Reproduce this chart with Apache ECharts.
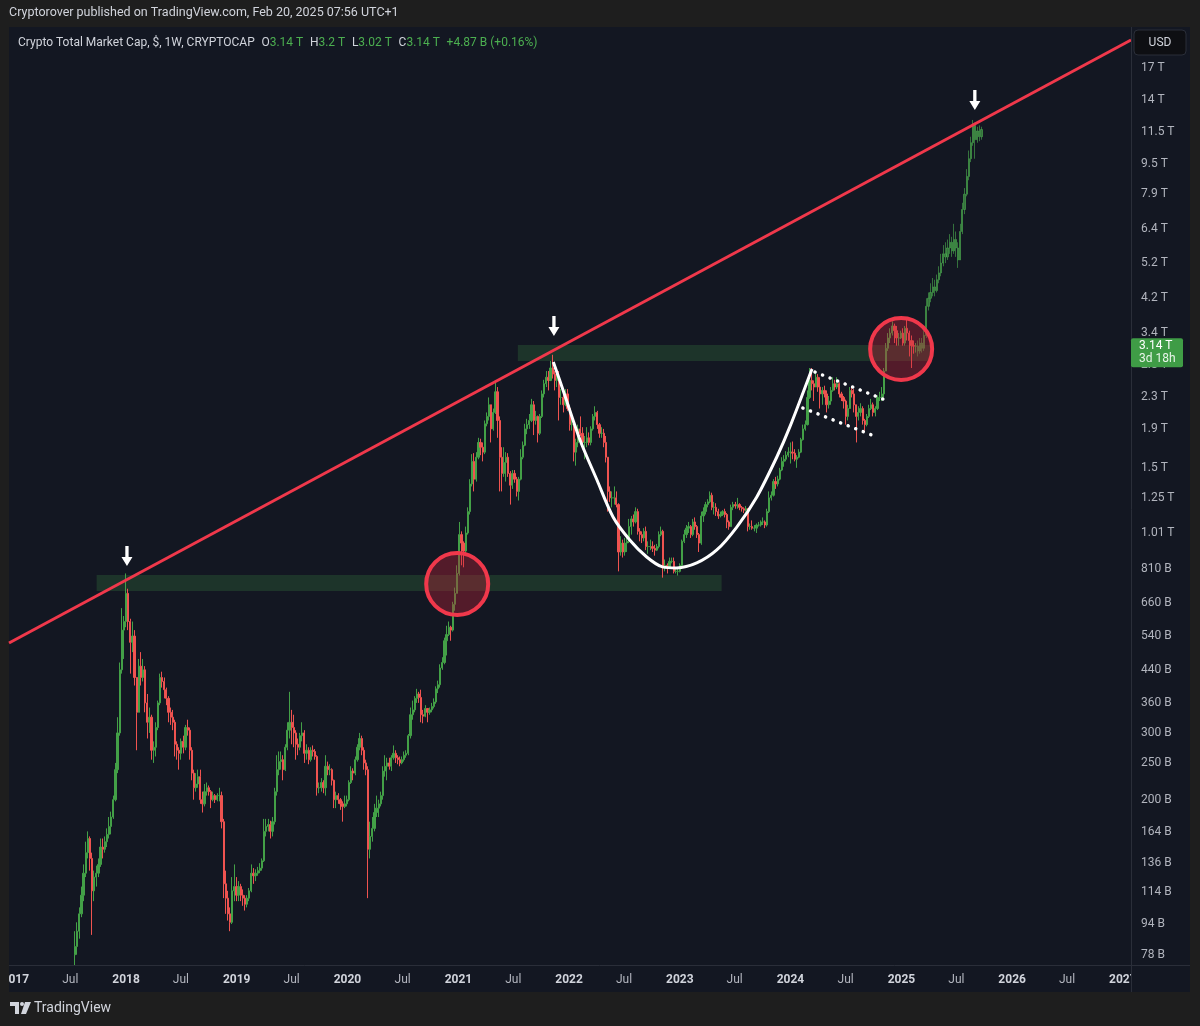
<!DOCTYPE html>
<html><head><meta charset="utf-8">
<script src="https://cdn.jsdelivr.net/npm/echarts@6/dist/echarts.min.js"></script>
<style>html,body{margin:0;padding:0;background:#1e1e1e;}#c{width:1200px;height:1026px;}</style>
</head><body><div id="c"></div>
<script>
// ---- DATA (values in billions USD). Each week row: [close, low, high]; open = previous close ----
const firstWeek = '2017-07-17';
const firstOpen = 78;
const y2017 = [[82,73,90],[90,78,95],[100,86,104],[112,98,118],[128,108,135],[145,125,155],[158,140,165],[140,130,160],[115,88,145],[125,108,130],[128,118,134],[135,125,140],[150,133,158],[148,140,158],[155,145,160],[162,150,168],[170,158,180],[180,162,186],[200,178,205],[240,198,250],[300,235,330],[440,295,460],[560,430,640],[590,470,610]];
const y2018 = [[700,570,790],[590,560,720],[520,430,600],[540,490,590],[420,400,560],
[340,270,420],[450,340,470],[420,400,490],[440,410,470],
[360,340,450],[320,290,380],[330,300,350],[270,255,335],
[275,250,285],[310,260,320],[360,305,365],[420,355,430],[410,395,435],
[390,370,420],[370,355,395],[340,320,375],[330,315,350],
[320,305,345],[280,260,325],[270,255,285],[265,240,275],
[285,255,290],[275,265,295],[310,270,315],[305,295,325],[270,255,310],
[235,225,275],[215,200,240],[220,210,235],[230,215,240],
[200,195,240],[195,185,210],[210,192,220],[215,205,222],
[210,205,218],[200,190,212],[205,198,210],[200,196,207],[205,198,208],
[205,198,215],[175,168,210],[120,110,178],[110,100,130],
[100,96,115],[95,90,104],[115,94,125],[118,108,135],[112,108,125]];
const y2019 = [[118,108,122],[112,108,120],[110,105,116],[106,102,112],
[110,104,112],[115,108,117],[128,114,135],[126,120,132],
[128,122,131],[130,126,133],[132,128,136],[138,130,140],
[165,137,178],[170,160,178],[172,165,178],[165,158,176],[175,160,180],
[210,172,215],[240,205,262],[252,232,268],[255,240,268],
[240,225,262],[275,238,280],[305,270,320],[320,290,385],
[310,280,345],[300,275,335],[280,255,305],[275,262,290],[295,270,300],
[300,285,320],[265,250,305],[270,255,280],[255,248,275],
[270,252,275],[268,260,278],[260,255,272],[215,205,262],[215,208,222],
[222,210,228],[215,208,225],[245,205,262],[240,232,252],
[240,232,248],[225,218,242],[200,190,226],[205,190,210],
[200,195,208],[195,188,202],[192,175,198],[195,190,205],[200,192,205]];
const y2020 = [[222,198,225],[238,220,245],[235,225,242],[255,232,260],
[275,252,280],[290,270,300],[270,262,295],[250,240,275],
[240,232,255],[148,110,245],[160,140,175],[168,155,180],[185,165,195],
[190,180,205],[195,180,200],[205,192,210],[238,200,245],
[245,230,262],[250,225,258],[245,240,258],[258,238,262],
[265,255,278],[258,250,270],[255,248,262],[250,245,260],[255,248,260],
[262,252,268],[265,258,270],[295,262,298],[335,290,350],
[345,325,365],[370,340,375],[380,360,392],[372,360,385],[335,320,390],
[332,318,345],[348,330,355],[340,320,348],[345,335,350],
[352,340,360],[362,348,370],[392,358,398],[402,382,412],
[445,395,455],[460,440,475],[525,455,535],[545,480,575],[570,540,590],
[560,525,575],[655,555,665],[700,630,725],[790,700,830]];
const y2021 = [[1000,780,1080],[950,830,1020],[905,820,960],[1010,880,1050],
[1150,1000,1180],[1360,1130,1400],[1560,1340,1630],[1400,1300,1640],
[1600,1380,1650],[1750,1580,1800],[1700,1620,1790],[1650,1560,1750],[1960,1630,2000],
[2050,1930,2100],[2200,2000,2300],[1900,1750,2200],[2100,1880,2150],
[2380,2080,2550],[2000,1800,2450],[1600,1300,2050],[1450,1300,1700],[1550,1420,1700],
[1600,1380,1650],[1450,1420,1640],[1350,1200,1470],[1450,1320,1480],
[1400,1370,1480],[1300,1260,1420],[1400,1230,1420],[1600,1390,1680],
[1720,1580,1760],[1900,1710,1960],[1950,1840,2020],[2000,1900,2080],[2200,1980,2280],
[2000,1830,2250],[2050,1950,2120],[1850,1750,2060],[2050,1830,2080],
[2350,2030,2400],[2500,2300,2560],[2600,2450,2700],[2550,2400,2700],
[2750,2540,2870],[2650,2580,2980],[2550,2400,2700],[2600,2450,2680],[2300,2000,2700],
[2300,2200,2420],[2200,2100,2350],[2350,2180,2420],[2150,2120,2420]];
const y2022 = [[1950,1880,2200],[1950,1880,2050],[1650,1560,1980],[1750,1520,1790],[1900,1700,1950],
[1850,1820,2050],[1750,1700,1920],[1750,1580,1820],[1800,1700,1920],
[1750,1720,1860],[1900,1720,1930],[2050,1880,2080],[2100,2000,2180],
[1950,1900,2120],[1850,1800,1970],[1850,1800,1920],[1750,1700,1900],
[1600,1550,1820],[1300,1150,1600],[1250,1220,1340],[1250,1180,1300],[1250,1200,1340],
[1200,1180,1300],[900,800,1210],[950,880,990],[900,870,970],
[950,880,980],[960,900,990],[1050,950,1100],[1100,1000,1120],
[1080,1050,1130],[1150,1070,1180],[1020,1000,1170],[1000,960,1040],[980,950,1020],
[1020,960,1040],[930,910,1050],[930,890,960],[930,910,970],
[920,900,960],[910,880,940],[930,905,945],[1000,920,1020],[1020,990,1050],
[820,770,1030],[830,800,860],[820,790,840],[850,815,870],
[850,840,870],[800,790,870],[800,790,815],[800,780,812]];
const y2023 = [[830,795,840],[960,825,970],[1000,950,1030],[1040,980,1060],[1050,1010,1080],
[1000,980,1060],[1080,990,1100],[1050,1030,1110],[1000,980,1060],
[950,900,1010],[1120,940,1150],[1150,1080,1180],[1200,1130,1220],
[1220,1180,1240],[1270,1210,1300],[1180,1160,1290],[1180,1130,1220],
[1150,1120,1210],[1120,1100,1170],[1130,1110,1150],[1150,1120,1160],[1130,1110,1170],
[1080,1040,1140],[1050,1030,1090],[1180,1050,1200],[1200,1160,1220],
[1190,1170,1220],[1200,1170,1250],[1180,1160,1210],[1170,1150,1190],[1160,1140,1180],
[1170,1150,1190],[1050,1020,1175],[1050,1030,1070],[1040,1030,1090],
[1040,1020,1060],[1060,1010,1070],[1060,1050,1080],[1080,1050,1090],
[1080,1060,1110],[1060,1040,1090],[1150,1050,1170],[1250,1140,1300],[1270,1230,1300],
[1380,1260,1400],[1360,1320,1420],[1400,1340,1430],[1480,1390,1500],
[1560,1470,1600],[1580,1510,1620],[1620,1560,1660],[1650,1600,1700]];
const y2024 = [[1650,1540,1750],[1640,1580,1760],[1580,1560,1680],[1600,1500,1620],[1650,1590,1680],
[1780,1640,1800],[1900,1770,1950],[1950,1880,2000],[2300,1940,2400],
[2550,2280,2750],[2500,2400,2750],[2450,2250,2550],[2600,2450,2700],
[2450,2380,2650],[2350,2150,2600],[2400,2200,2450],[2350,2300,2470],[2200,2100,2400],
[2250,2150,2320],[2400,2200,2450],[2500,2380,2600],[2450,2400,2560],
[2500,2420,2600],[2350,2300,2520],[2300,2250,2380],[2250,2150,2320],
[2050,1950,2270],[2150,2000,2200],[2400,2150,2450],[2350,2300,2450],[2200,2100,2420],
[2050,1750,2200],[2100,2000,2180],[2150,2050,2220],[2000,1950,2180],
[1950,1880,2020],[2050,1930,2080],[2150,2030,2200],[2200,2130,2280],[2100,2050,2230],
[2150,2050,2180],[2300,2130,2330],[2300,2250,2380],[2350,2250,2450],
[2700,2300,2750],[3100,2700,3200],[3300,3050,3400],[3400,3200,3500],
[3550,3350,3650],[3450,3200,3600],[3300,3150,3550],[3300,3150,3400],[3400,3280,3450]];
const y2025 = [[3200,3150,3500],[3500,3150,3550],[3400,3250,3700],[3250,2950,3450],[3150,2750,3350],[3140,3000,3250],[3140,3020,3200]];
// projected bars pattern (drawn after the last real weekly bar)
const proj2025 = [[3050,2950,3250],[3200,3000,3300],[3100,3020,3300],[3350,3050,3450],[4000,3300,4200],[4200,3900,4350],[4350,4100,4600],[4500,4250,4750],[4400,4250,4700],[4700,4350,4850],[4900,4600,5100],[5200,4800,5500],[5500,5100,5800],[5400,5200,5900],[5700,5300,6000],[5900,5500,6200],[5600,5400,6100],[6000,5500,6600],[5700,5400,6300],[5300,5050,5900],[6300,5300,6600],[7200,6200,7500],[7900,7000,8200],[8800,7800,9200],[9800,8600,10300],[10800,9600,11200],[12000,10600,12400],[11000,9800,12200],[11600,10800,11900],[11200,10900,12000],[11700,11000,11900]];

// axis ticks
const yTicks = [78,94,114,136,164,200,250,300,360,440,540,660,810,1010,1250,1500,1900,2300,2800,3400,4200,5200,6400,7900,9500,11500,14000,17000];
const xTicks = ['2017-01-01','2017-07-01','2018-01-01','2018-07-01','2019-01-01','2019-07-01','2020-01-01','2020-07-01','2021-01-01','2021-07-01','2022-01-01','2022-07-01','2023-01-01','2023-07-01','2024-01-01','2024-07-01','2025-01-01','2025-07-01','2026-01-01','2026-07-01','2027-01-01'];
const xRange = ['2016-12-11','2027-01-28'];
const yRange = [73.3, 21805];

// drawings (date, value in B)
const trendLine = [['2016-12-11',518],['2027-01-28',20150]];
const zones = [[['2017-09-26',783],['2023-05-19',710]],[['2021-07-16',3162],['2025-04-06',2870]]];
const circles = [['2020-12-28',741],['2024-12-31',3087]];
const arrows = [['2018-01-04',878],['2021-11-12',3550],['2025-08-31',14000]];
const cup = [['2021-11-10',2853],['2021-12-12',2406],['2022-02-06',1777],['2022-04-03',1393],['2022-05-26',1113],['2022-07-20',968],['2022-09-14',873],['2022-11-05',822],['2022-12-22',817],['2023-02-26',842],['2023-05-03',911],['2023-07-08',1047],['2023-09-12',1257],['2023-11-17',1602],['2023-12-30',1923],['2024-03-12',2734]];
const flagUpper = [['2024-03-22',2684],['2024-11-17',2251]];
const flagLower = [['2024-02-11',2157],['2024-10-12',1809]];

// ---- build ----
function d(s){const p=s.split('-').map(Number);return new Date(p[0],p[1]-1,p[2]).getTime();}
const fp = firstWeek.split('-').map(Number);
function weekTs(i){return new Date(fp[0],fp[1]-1,fp[2]+7*i).getTime();}
function build(rows,startIdx,startOpen){
  const out=[];let o=startOpen;
  rows.forEach((r,i)=>{const c=r[0];out.push([weekTs(startIdx+i),o,c,Math.min(r[1],o,c),Math.max(r[2],o,c)]);o=c;});
  return out;
}
const real=[].concat(y2017,y2018,y2019,y2020,y2021,y2022,y2023,y2024,y2025);
const realData=build(real,0,firstOpen);
const projData=build(proj2025,real.length,real[real.length-1][0]);
const pts=a=>a.map(p=>[d(p[0]),p[1]]);
const FONT='Roboto, "Noto Sans", "DejaVu Sans", sans-serif';
function fmtY(v){v=Math.round(v);return v>=1000?(+(v/1000).toFixed(2))+' T':v+' B';}

const chart=echarts.init(document.getElementById('c'),null,{renderer:'canvas'});
const option={
  backgroundColor:'#1e1e1e',
  animation:false,
  textStyle:{fontFamily:FONT},
  grid:{left:9,right:69,top:27,bottom:61,containLabel:false,outerBoundsMode:'none'},
  xAxis:{type:'value',min:d(xRange[0]),max:d(xRange[1]),scale:true,
    axisLine:{show:false},axisTick:{show:false},splitLine:{show:false},
    axisLabel:{customValues:xTicks.map(d),margin:9,hideOverlap:false,showMinLabel:true,showMaxLabel:true,
      formatter:function(v){const dt=new Date(v);return dt.getMonth()===0?'{y|'+dt.getFullYear()+'}':'{m|Jul}';},
      rich:{y:{fontSize:12,fontWeight:'bold',color:'#d1d4dc',fontFamily:FONT},m:{fontSize:12,color:'#b2b5be',fontFamily:FONT}}}},
  yAxis:{type:'log',logBase:10,position:'right',min:yRange[0],max:yRange[1],
    axisLine:{show:false},axisTick:{show:false},splitLine:{show:false},
    axisLabel:{customValues:yTicks,margin:10,color:'#b2b5be',fontSize:12,fontFamily:FONT,formatter:fmtY}},
  series:[
    {type:'candlestick',name:'real',data:realData,encode:{x:0,y:[1,2,3,4]},barWidth:1.7,z:2,
      itemStyle:{color:'#43a047',color0:'#ef5350',borderColor:'#43a047',borderColor0:'#ef5350',borderWidth:1}},
    {type:'candlestick',name:'proj',data:projData,encode:{x:0,y:[1,2,3,4]},barWidth:1.7,z:2,
      itemStyle:{color:'rgba(76,175,80,0.6)',color0:'rgba(76,175,80,0.6)',borderColor:'rgba(76,175,80,0.6)',borderColor0:'rgba(76,175,80,0.6)',borderWidth:1}},
    {type:'line',name:'trend',data:pts(trendLine),symbol:'none',z:6,silent:true,
      lineStyle:{color:'#f0384b',width:3},
      markArea:{silent:true,itemStyle:{color:'rgba(67,160,71,0.22)'},
        data:zones.map(z=>[{coord:[d(z[0][0]),z[0][1]]},{coord:[d(z[1][0]),z[1][1]]}])}},
    {type:'line',name:'cup',data:pts(cup),symbol:'none',smooth:0.3,z:7,silent:true,
      lineStyle:{color:'#ffffff',width:3}},
    {type:'line',name:'flagU',data:pts(flagUpper),symbol:'none',z:7,silent:true,
      lineStyle:{color:'#ffffff',width:3.5,type:[0.1,8],cap:'round'}},
    {type:'line',name:'flagL',data:pts(flagLower),symbol:'none',z:7,silent:true,
      lineStyle:{color:'#ffffff',width:3.5,type:[0.1,8],cap:'round'}},
    {type:'scatter',name:'circles',data:pts(circles),symbol:'circle',symbolSize:62,z:8,silent:true,
      itemStyle:{color:'rgba(190,35,55,0.38)',borderColor:'#f0384b',borderWidth:4,opacity:1}},
    {type:'scatter',name:'arrows',data:pts(arrows),symbol:'path://M3.5,0 L6.5,0 L6.5,11 L10,11 L5,20 L0,11 L3.5,11 Z',symbolSize:[11,20],z:9,silent:true,
      itemStyle:{color:'#ffffff',opacity:1}}
  ]
};
chart.setOption(option);

const lastClose=real[real.length-1][0];
const py=chart.convertToPixel({yAxisIndex:0},lastClose);
const G=[];
G.push({type:'rect',z:-10,shape:{x:9,y:27,width:1181,height:965},style:{fill:'#131722'}});
G.push({type:'line',z:50,shape:{x1:1131.5,y1:27,x2:1131.5,y2:992},style:{stroke:'#2a2e39',lineWidth:1}});
G.push({type:'line',z:50,shape:{x1:9,y1:965.5,x2:1190,y2:965.5},style:{stroke:'#2a2e39',lineWidth:1}});
G.push({type:'rect',z:60,shape:{x:0,y:966,width:9,height:40},style:{fill:'#1e1e1e'}});
G.push({type:'rect',z:60,shape:{x:1132,y:966,width:58,height:26},style:{fill:'#131722'}});
G.push({type:'text',z:60,style:{x:9,y:13,text:'Cryptorover published on TradingView.com, Feb 20, 2025 07:56 UTC+1',fill:'#d1d4dc',font:'12.5px '+FONT,verticalAlign:'middle'}});
G.push({type:'text',z:60,style:{x:18,y:43,verticalAlign:'middle',
  text:'{a|Crypto Total Market Cap, $, 1W, CRYPTOCAP}  {a|O}{g|3.14 T}  {a|H}{g|3.2 T}  {a|L}{g|3.02 T}  {a|C}{g|3.14 T}  {g|+4.87 B (+0.16%)}',
  rich:{a:{fill:'#d1d4dc',fontSize:12,fontFamily:FONT},g:{fill:'#4caf50',fontSize:12,fontFamily:FONT}}}});
G.push({type:'rect',z:60,shape:{x:1134,y:30,width:52,height:25,r:4},style:{fill:'#0e0f13',stroke:'#2a2e39',lineWidth:1}});
G.push({type:'text',z:61,style:{x:1160,y:43,text:'USD',fill:'#d1d4dc',font:'12px '+FONT,align:'center',verticalAlign:'middle'}});
G.push({type:'rect',z:60,shape:{x:1131,y:py-8,width:52,height:29,r:2},style:{fill:'#3f9c46'}});
G.push({type:'text',z:61,style:{x:1139,y:py,text:fmtY(lastClose),fill:'#ffffff',font:'12px '+FONT,verticalAlign:'middle'}});
G.push({type:'text',z:61,style:{x:1139,y:py+13,text:'3d 18h',fill:'#e8f5e9',font:'12px '+FONT,verticalAlign:'middle'}});
// footer logo + wordmark
G.push({type:'rect',z:60,shape:{x:10,y:1002,width:9,height:4},style:{fill:'#d1d4dc'}});
G.push({type:'rect',z:60,shape:{x:15,y:1002,width:4,height:12},style:{fill:'#d1d4dc'}});
G.push({type:'circle',z:60,shape:{cx:22,cy:1004,r:2},style:{fill:'#d1d4dc'}});
G.push({type:'polygon',z:60,shape:{points:[[25,1002],[31,1002],[26,1014],[21,1014]]},style:{fill:'#d1d4dc'}});
G.push({type:'text',z:60,style:{x:34,y:1008,text:'TradingView',fill:'#d1d4dc',font:'14px '+FONT,verticalAlign:'middle'}});
chart.setOption({graphic:G});
</script></body></html>
